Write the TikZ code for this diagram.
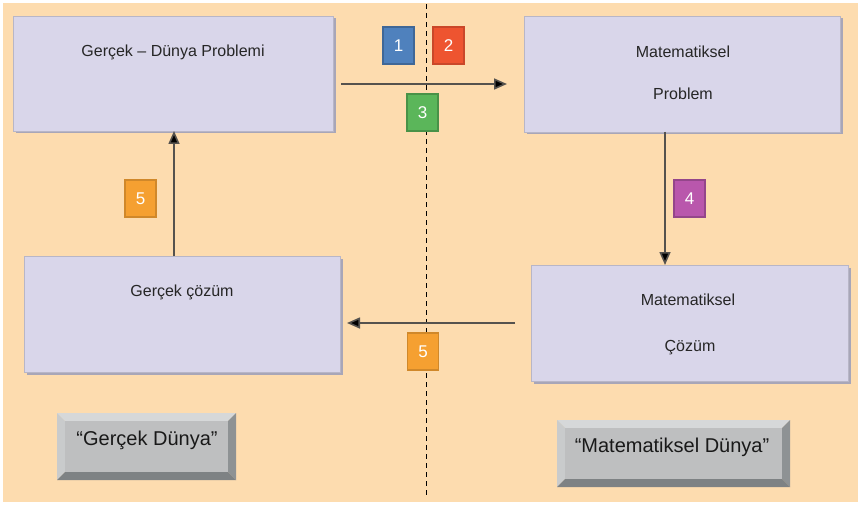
\documentclass[tikz,border=0pt]{standalone}
\usepackage{fontspec}
\setmainfont{Liberation Sans}
\usetikzlibrary{arrows.meta,calc}

\definecolor{bgpeach}{HTML}{FDDCAF}
\definecolor{boxfill}{HTML}{D9D6EA}
\definecolor{boxshade}{HTML}{A8A6B8}
\definecolor{tagblue}{HTML}{4F81BD}
\definecolor{tagred}{HTML}{EE5430}
\definecolor{taggreen}{HTML}{5BB65A}
\definecolor{tagpink}{HTML}{B957AC}
\definecolor{tagorange}{HTML}{F5A031}
\definecolor{arrowgray}{HTML}{55524E}
\definecolor{btnface}{HTML}{BEBFC0}
\definecolor{btnlight}{HTML}{D6D8D9}
\definecolor{btnside}{HTML}{C9CBCC}
\definecolor{btndark}{HTML}{7E8284}
\definecolor{btnright}{HTML}{8E9294}

\tikzset{
  stagebox/.style={fill=boxfill, draw=boxfill!85!black, line width=0.6pt},
  boxtext/.style={font=\fontsize{16}{19}\selectfont, text=black!85, inner sep=0pt},
  tag/.style={minimum width=31pt, minimum height=37pt, inner sep=0pt,
    font=\fontsize{17}{20}\selectfont, text=white, line width=1.4pt},
  flow/.style={draw=arrowgray, line width=1.6pt,
    -{Triangle[length=13pt,width=11pt,fill=black]}},
  worldtext/.style={font=\fontsize{20}{24}\selectfont, text=black!90, inner sep=0pt},
}

% a box with a soft drop shadow on its right and bottom sides
\newcommand{\stagerect}[3]{%
  \fill[boxshade] ($(#1)+(2.5,2.5)$) rectangle ($(#2)+(2.5,2.5)$);
  \path[stagebox] (#1) rectangle (#2);
  \coordinate (#3) at ($(#1)!0.5!(#2)$);
}

% a bevelled grey button: left, top, right, bottom, bevel width
\newcommand{\bevelbutton}[5]{%
  \fill[btnlight] (#1,#2) -- (#3,#2) -- (#3-#5,#2+#5) -- (#1+#5,#2+#5) -- cycle;
  \fill[btnside] (#1,#2) -- (#1+#5,#2+#5) -- (#1+#5,#4-#5) -- (#1,#4) -- cycle;
  \fill[btnright] (#3,#2) -- (#3,#4) -- (#3-#5,#4-#5) -- (#3-#5,#2+#5) -- cycle;
  \fill[btndark] (#1,#4) -- (#1+#5,#4-#5) -- (#3-#5,#4-#5) -- (#3,#4) -- cycle;
  \fill[btnface] (#1+#5,#2+#5) rectangle (#3-#5,#4-#5);
}

\begin{document}
\begin{tikzpicture}[x=1pt, y=-1pt]
  \useasboundingbox (0,0) rectangle (859,508);
  \fill[white] (0,0) rectangle (859,508);
  \fill[bgpeach] (3,3) rectangle (858,502);

  % border between the two worlds
  \draw[black, line width=1pt, dash pattern=on 5pt off 4pt] (426,4) -- (426,497);

  % the four stage boxes
  \stagerect{13,16}{333,131}{p1c}
  \stagerect{524,16}{840,132}{p2c}
  \stagerect{24,256}{340,372}{p3c}
  \stagerect{531,265}{848,381}{p4c}

  \node[boxtext] (t1) at (173,52) {Gerçek – Dünya Problemi};
  \node[boxtext] (t2a) at (683,52) {Matematiksel};
  \node[boxtext] (t2b) at (683,94) {Problem};
  \node[boxtext] (t3) at (182,292) {Gerçek çözüm};
  \node[boxtext] (t4a) at (688,300) {Matematiksel};
  \node[boxtext] (t4b) at (690,348) {Çözüm};

  % arrow end points beside the boxes
  \coordinate (a1s) at (341,84);
  \coordinate (a1e) at (507,84);
  \coordinate (a2s) at (665,132);
  \coordinate (a2e) at (665,265);
  \coordinate (a3s) at (515,323);
  \coordinate (a3e) at (347,323);
  \coordinate (a4s) at (174,256);
  \coordinate (a4e) at (174,131);

  \draw[flow] (a1s) -- (a1e);
  \draw[flow] (a2s) -- (a2e);
  \draw[flow] (a3s) -- (a3e);
  \draw[flow] (a4s) -- (a4e);

  % numbered step tags
  \node[tag, fill=tagblue, draw=tagblue!80!black] (n1) at (398.5,45.5) {1};
  \node[tag, fill=tagred, draw=tagred!85!black] (n2) at (448.5,45.5) {2};
  \node[tag, fill=taggreen, draw=taggreen!80!black] (n3) at (422.5,112.5) {3};
  \node[tag, fill=tagpink, draw=tagpink!80!black] (n4) at (689.5,198.5) {4};
  \node[tag, fill=tagorange, draw=tagorange!85!black] (n5a) at (140.5,198.5) {5};
  \node[tag, fill=tagorange, draw=tagorange!85!black] (n5b) at (423,351.5) {5};

  % world labels on bevelled buttons
  \bevelbutton{57}{413}{236}{480}{8}
  \bevelbutton{557}{420}{790}{487}{8}
  \node[worldtext] (w1) at (147,440) {“Gerçek Dünya”};
  \node[worldtext] (w2) at (672,447) {“Matematiksel Dünya”};
\end{tikzpicture}
\end{document}
